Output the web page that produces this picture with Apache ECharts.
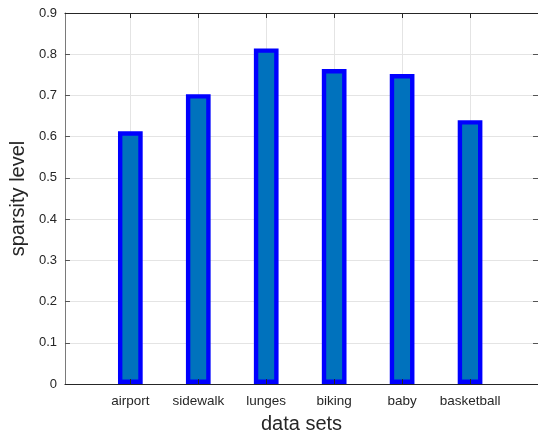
<!DOCTYPE html>
<html>
<head>
<meta charset="utf-8">
<script src="https://cdn.jsdelivr.net/npm/echarts@6/dist/echarts.min.js"></script>
<style>
  html, body { margin: 0; padding: 0; background: #fff; }
  #chart { width: 538px; height: 439px; }
</style>
</head>
<body>
<div id="chart"></div>
<script>
// Data sets and their sparsity levels
const categories = ['airport', 'sidewalk', 'lunges', 'biking', 'baby', 'basketball'];
const sparsity = [0.613, 0.703, 0.814, 0.764, 0.752, 0.640];
const yTicks = [0, 0.1, 0.2, 0.3, 0.4, 0.5, 0.6, 0.7, 0.8, 0.9];

// Bars sit at positions 1..n on a numeric x axis
const positions = categories.map((_, i) => i + 1);
const barData = positions.map((p, i) => [p, sparsity[i]]);

const font = '"Liberation Sans", Arial, Helvetica, sans-serif';
const textColor = '#262626';
const gridColor = '#e4e4e4';
const X_MIN = 0.038, X_MAX = 7;

const chart = echarts.init(document.getElementById('chart'), null, { renderer: 'canvas' });

chart.setOption({
  animation: false,
  backgroundColor: '#fff',
  grid: { left: 61, top: 13, width: 482.6, height: 373, containLabel: false },
  xAxis: [
    {
      // labels, title and vertical grid lines (drawn beneath the bars)
      type: 'value',
      position: 'bottom',
      min: X_MIN,
      max: X_MAX,
      name: 'data sets',
      nameLocation: 'middle',
      nameGap: 30,
      nameTextStyle: { fontFamily: font, fontSize: 20, color: textColor },
      axisLine: { show: false },
      axisTick: { show: false, customValues: positions },
      axisLabel: {
        show: true,
        customValues: positions,
        margin: 10,
        fontFamily: font,
        fontSize: 13.5,
        color: textColor,
        formatter: v => categories[Math.round(v) - 1] || ''
      },
      splitLine: { show: true, lineStyle: { color: gridColor, width: 1 } }
    },
    {
      // bottom axis line and inward ticks, drawn over the bars
      type: 'value',
      position: 'bottom',
      min: X_MIN,
      max: X_MAX,
      z: 5,
      axisLine: { show: true, onZero: false, lineStyle: { color: textColor, width: 1 } },
      axisTick: { show: true, inside: true, length: 5, customValues: positions, lineStyle: { color: textColor } },
      axisLabel: { show: false },
      splitLine: { show: false }
    },
    {
      // top box edge
      type: 'value',
      position: 'top',
      min: X_MIN,
      max: X_MAX,
      z: 5,
      axisLine: { show: true, onZero: false, lineStyle: { color: textColor, width: 1 } },
      axisTick: { show: true, inside: true, length: 5, customValues: positions, lineStyle: { color: textColor } },
      axisLabel: { show: false },
      splitLine: { show: false }
    }
  ],
  yAxis: [
    {
      type: 'value',
      position: 'left',
      min: 0,
      max: 0.9,
      interval: 0.1,
      name: 'sparsity level',
      nameLocation: 'middle',
      nameGap: 30,
      nameTextStyle: { fontFamily: font, fontSize: 20, color: textColor },
      axisLine: { show: true, onZero: false, lineStyle: { color: '#7a7a7a', width: 1 } },
      axisTick: { show: true, inside: true, length: 5, lineStyle: { color: '#555' } },
      axisLabel: {
        margin: 8,
        fontFamily: font,
        fontSize: 13,
        color: textColor,
        formatter: v => {
          const t = yTicks.find(k => Math.abs(k - v) < 1e-9);
          return t === undefined ? '' : String(t);
        }
      },
      splitLine: { show: true, lineStyle: { color: gridColor, width: 1 } }
    },
    {
      type: 'value',
      position: 'right',
      min: 0,
      max: 0.9,
      interval: 0.1,
      axisLine: { show: true, onZero: false, lineStyle: { color: textColor, width: 1 } },
      axisTick: { show: true, inside: true, length: 5, lineStyle: { color: '#555' } },
      axisLabel: { show: false },
      splitLine: { show: false }
    }
  ],
  series: [
    {
      type: 'bar',
      xAxisIndex: 0,
      yAxisIndex: 0,
      data: barData,
      barWidth: 24.7,
      itemStyle: {
        color: '#0072BD',
        borderColor: '#0000FF',
        borderWidth: 4.4
      }
    }
  ]
});
</script>
</body>
</html>
